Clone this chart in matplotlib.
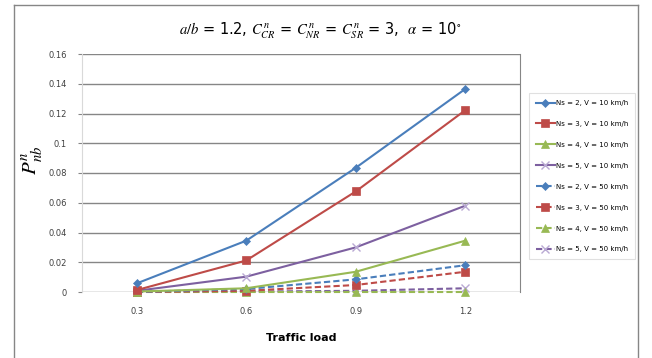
import matplotlib
matplotlib.use("Agg")
import matplotlib.pyplot as plt
from matplotlib.lines import Line2D

# ---- data ----
traffic_load = ["0.3", "0.6", "0.9", "1.2"]
ns2_v10 = [0.0058, 0.0345, 0.0835, 0.1365]
ns3_v10 = [0.0013, 0.0212, 0.0676, 0.1222]
ns4_v10 = [0.0003, 0.0025, 0.0136, 0.0345]
ns5_v10 = [0.0008, 0.0103, 0.0300, 0.0580]
ns2_v50 = [0.0001, 0.0020, 0.0085, 0.0180]
ns3_v50 = [0.0000, 0.0008, 0.0047, 0.0136]
ns4_v50 = [0.0000, 0.0000, 0.0000, 0.0000]
ns5_v50 = [0.0000, 0.0003, 0.0008, 0.0025]
labels = ["Ns = 2, V = 10 km/h", "Ns = 3, V = 10 km/h", "Ns = 4, V = 10 km/h",
          "Ns = 5, V = 10 km/h", "Ns = 2, V = 50 km/h", "Ns = 3, V = 50 km/h",
          "Ns = 4, V = 50 km/h", "Ns = 5, V = 50 km/h"]
y_ticks = [0, 0.02, 0.04, 0.06, 0.08, 0.1, 0.12, 0.14, 0.16]
y_ticklabels = ["0", "0.02", "0.04", "0.06", "0.08", "0.1", "0.12", "0.14", "0.16"]

series = [ns2_v10, ns3_v10, ns4_v10, ns5_v10, ns2_v50, ns3_v50, ns4_v50, ns5_v50]

colors = ["#4A7EBB", "#BE4B48", "#98B954", "#7D60A0"]
markers = ["D", "s", "^", "x"]
msizes = [4, 5.5, 5.5, 6]

fig = plt.figure(figsize=(6.52, 3.58), dpi=100)
ax = fig.add_axes([82/652, 1-292/358, (520-82)/652, (292-54)/358])

# outer chart border
for xs, ys in [([14, 14], [358, 5]), ([14, 638], [5, 5]), ([638, 638], [5, 358])]:
    fig.add_artist(Line2D([v/652 for v in xs], [1 - v/358 for v in ys],
                          color="#868686", lw=1.0, transform=fig.transFigure))

x = list(range(len(traffic_load)))
handles = []
for i, ys in enumerate(series):
    k = i % 4
    ls = "-" if i < 4 else (0, (3, 1.5))
    mcol = colors[k] if markers[k] != "x" else "#B9A9D3"
    h, = ax.plot(x, ys, color=colors[k], lw=1.5, ls=ls, marker=markers[k],
                 markersize=msizes[k], markerfacecolor=mcol, markeredgecolor=mcol,
                 markeredgewidth=1.0 if markers[k] == "x" else 0.5,
                 label=labels[i], zorder=3 + (8 - i) * 0.1, clip_on=False)
    handles.append(h)

ax.set_xlim(-0.5, 3.5)
ax.set_ylim(0, 0.16)
ax.set_xticks(x)
ax.set_xticklabels(traffic_load)
ax.set_yticks(y_ticks)
ax.set_yticklabels(y_ticklabels)

ax.yaxis.grid(True, color="#868686", lw=1.0)
ax.set_axisbelow(True)
for s in ["top", "bottom"]:
    ax.spines[s].set_visible(False)
ax.spines["left"].set_color("#D9D9D9")
ax.spines["right"].set_color("#868686")
ax.tick_params(axis="y", length=3, color="#868686", labelsize=6, labelcolor="#404040", pad=8)
ax.tick_params(axis="x", length=0, labelsize=6, labelcolor="#404040", pad=11)

ax.set_xlabel("Traffic load", fontsize=8, fontweight="bold", labelpad=12)
fig.text(33/652, 1-160/358, r"$\mathbf{\mathit{P}}^{\,n}_{nb}$", rotation=90,
         fontsize=15, ha="center", va="center", math_fontfamily="stix")

fig.text(320/652, 1-31/358,
         r"$\mathsf{\mathit{a/b}}$ = 1.2, $C^{\,n}_{CR}$ = $C^{\,n}_{NR}$ = $C^{\,n}_{SR}$ = 3,  $\alpha$ = 10$^{\circ}$",
         ha="center", va="center", fontsize=10.5, math_fontfamily="stix")

leg = fig.legend(handles=handles, loc="upper left", bbox_to_anchor=(529/652, 1-93/358),
                 fontsize=5, frameon=True, fancybox=False, edgecolor="#D9D9D9",
                 handlelength=2.7, handletextpad=0.2, labelspacing=2.15,
                 borderpad=1.0, borderaxespad=0)
leg.get_frame().set_linewidth(0.8)

fig.savefig("out.png", dpi=100)
